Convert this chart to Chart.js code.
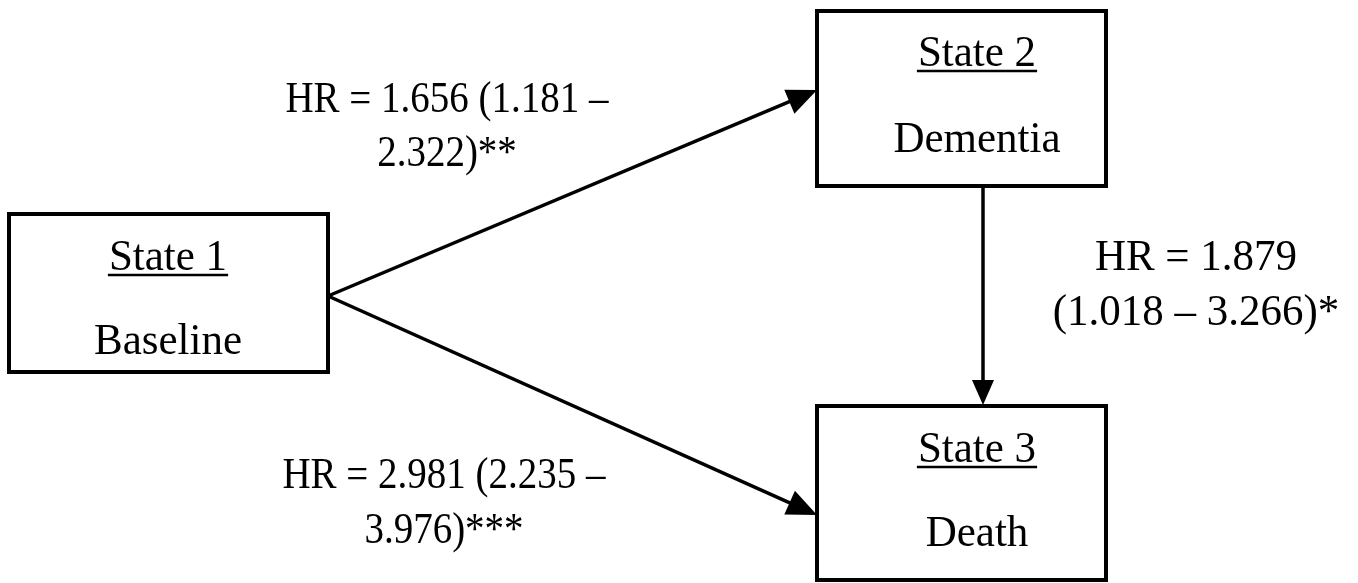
<!DOCTYPE html>
<html>
<head>
<meta charset="utf-8">
<script src="https://cdn.jsdelivr.net/npm/chart.js@4/dist/chart.umd.min.js"></script>
<style>
  html, body { margin: 0; padding: 0; background: #ffffff; }
  #wrap { width: 1358px; height: 583px; }
</style>
</head>
<body>
<div id="wrap"><canvas id="c" width="1358" height="583"></canvas></div>
<script>
// Multi-state model: states and transition hazard ratios
const stateNames  = ['State 1', 'State 2', 'State 3'];
const stateLabels = ['Baseline', 'Dementia', 'Death'];

const transitions = ['1→2', '2→3', '1→3'];
const hazardRatio = [1.656, 1.879, 2.981];
const ciLower     = [1.181, 1.018, 2.235];
const ciUpper     = [2.322, 3.266, 3.976];
const stars       = ['**', '*', '***'];

// Layout (canvas units, y grows downward)
const boxes = [
  { x0: 9,   x1: 328,  y0: 214, y1: 372, textX: 168, titleY: 270, labelY: 354 },
  { x0: 817, x1: 1106, y0: 11,  y1: 186, textX: 977, titleY: 66,  labelY: 152 },
  { x0: 817, x1: 1106, y0: 406, y1: 580, textX: 977, titleY: 462, labelY: 546 }
];
const arrows = [
  { from: [328, 296], to: [817, 90],  head: [30, 13] },
  { from: [983, 186], to: [983, 405], head: [25, 11] },
  { from: [328, 296], to: [817, 515], head: [30, 13] }
];
const hrLabels = [
  { cx: 447,  lines: [112, 166], split: 'first',  size: 39, stretch: 1.14 },
  { cx: 1196, lines: [270, 325], split: 'second', size: 43, stretch: 1.05 },
  { cx: 444,  lines: [488, 543], split: 'first',  size: 39, stretch: 1.14 }
];
const BOX_FONT = 43, BOX_STRETCH = 1.05;

const fmt = v => v.toFixed(3);
function labelLines(i, split) {
  if (split === 'first') {
    return ['HR = ' + fmt(hazardRatio[i]) + ' (' + fmt(ciLower[i]) + ' \u2013',
            fmt(ciUpper[i]) + ')' + stars[i]];
  }
  return ['HR = ' + fmt(hazardRatio[i]),
          '(' + fmt(ciLower[i]) + ' \u2013 ' + fmt(ciUpper[i]) + ')' + stars[i]];
}

// Box outlines as closed line datasets
const boxDatasets = boxes.map((b, i) => ({
  label: stateNames[i],
  data: [
    { x: b.x0, y: b.y0 }, { x: b.x1, y: b.y0 },
    { x: b.x1, y: b.y1 }, { x: b.x0, y: b.y1 }, { x: b.x0, y: b.y0 }
  ],
  borderColor: '#000', borderWidth: 4, pointRadius: 0,
  showLine: true, fill: false, tension: 0,
  borderJoinStyle: 'miter', borderCapStyle: 'square'
}));

// Arrow shafts, stopping where the heads begin
const arrowDatasets = arrows.map((a, i) => {
  const dx = a.to[0] - a.from[0], dy = a.to[1] - a.from[1];
  const len = Math.hypot(dx, dy);
  const ex = a.to[0] - dx / len * (a.head[0] - 2);
  const ey = a.to[1] - dy / len * (a.head[0] - 2);
  return {
    label: transitions[i],
    data: [{ x: a.from[0], y: a.from[1] }, { x: ex, y: ey }],
    borderColor: '#000', borderWidth: 3.5, pointRadius: 0,
    showLine: true, fill: false
  };
});

function stretchedText(ctx, text, x, y, stretch) {
  ctx.save();
  ctx.translate(x, y);
  ctx.scale(1, stretch);
  ctx.fillText(text, 0, 0);
  ctx.restore();
}

const diagramPlugin = {
  id: 'diagram',
  afterDatasetsDraw(chart) {
    const ctx = chart.ctx;
    const sx = chart.scales.x, sy = chart.scales.y;
    const px = v => sx.getPixelForValue(v), py = v => sy.getPixelForValue(v);
    ctx.save();
    ctx.fillStyle = '#000';
    ctx.strokeStyle = '#000';

    // arrow heads
    arrows.forEach(a => {
      const tx = px(a.to[0]), ty = py(a.to[1]);
      const fx = px(a.from[0]), fy = py(a.from[1]);
      const ang = Math.atan2(ty - fy, tx - fx);
      ctx.save();
      ctx.translate(tx, ty);
      ctx.rotate(ang);
      ctx.beginPath();
      ctx.moveTo(0, 0);
      ctx.lineTo(-a.head[0], -a.head[1]);
      ctx.lineTo(-a.head[0], a.head[1]);
      ctx.closePath();
      ctx.fill();
      ctx.restore();
    });

    // state titles (underlined) and names
    ctx.textAlign = 'center';
    ctx.textBaseline = 'alphabetic';
    ctx.font = BOX_FONT + 'px "Liberation Serif", "Times New Roman", serif';
    boxes.forEach((b, i) => {
      const cx = px(b.textX);
      const ty = py(b.titleY);
      stretchedText(ctx, stateNames[i], cx, ty, BOX_STRETCH);
      const w = ctx.measureText(stateNames[i]).width;
      ctx.lineWidth = 2.5;
      ctx.beginPath();
      ctx.moveTo(cx - w / 2 - 1, ty + 5);
      ctx.lineTo(cx + w / 2 + 1, ty + 5);
      ctx.stroke();
      stretchedText(ctx, stateLabels[i], cx, py(b.labelY), BOX_STRETCH);
    });

    // hazard ratio labels
    hrLabels.forEach((l, i) => {
      ctx.font = l.size + 'px "Liberation Serif", "Times New Roman", serif';
      const lines = labelLines(i, l.split);
      lines.forEach((t, k) => stretchedText(ctx, t, px(l.cx), py(l.lines[k]), l.stretch));
    });
    ctx.restore();
  }
};

new Chart(document.getElementById('c'), {
  type: 'scatter',
  data: { datasets: [...boxDatasets, ...arrowDatasets] },
  options: {
    responsive: false,
    animation: false,
    layout: { padding: 0 },
    plugins: { legend: { display: false }, tooltip: { enabled: false } },
    scales: {
      x: { type: 'linear', min: 0, max: 1358, display: false },
      y: { type: 'linear', min: 0, max: 583, reverse: true, display: false }
    }
  },
  plugins: [diagramPlugin]
});
</script>
</body>
</html>
